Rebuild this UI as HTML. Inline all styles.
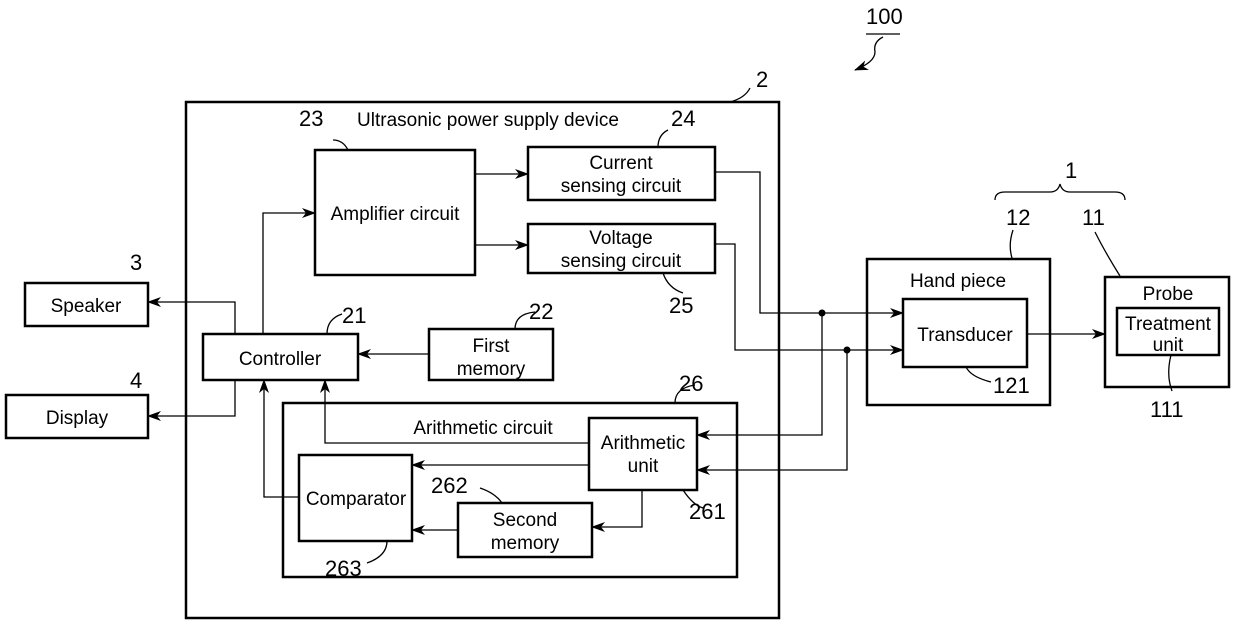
<!DOCTYPE html>
<html><head><meta charset="utf-8"><style>
body{margin:0;background:#fff}
svg{display:block}
text{font-family:"Liberation Sans",sans-serif;font-size:19px;fill:#000}
text.n{font-size:22px}
</style></head><body>
<svg width="1239" height="624" viewBox="0 0 1239 624" xmlns="http://www.w3.org/2000/svg">
<defs><marker id="a" markerWidth="14" markerHeight="10" refX="13" refY="5" orient="auto" markerUnits="userSpaceOnUse"><path d="M0,0 L14,5 L0,10 L4,5 Z" fill="#000"/></marker></defs>
<g fill="none" stroke="#000" stroke-width="2.5">
<rect x="186" y="102" width="593" height="516"/>
<rect x="315" y="150" width="160" height="125"/>
<rect x="528" y="147" width="187" height="53"/>
<rect x="528" y="224" width="187" height="49"/>
<rect x="203" y="334" width="155" height="46"/>
<rect x="429" y="329" width="124" height="51"/>
<rect x="283" y="403" width="454" height="174"/>
<rect x="589" y="418" width="108" height="72"/>
<rect x="299" y="455" width="113" height="86"/>
<rect x="458" y="503" width="134" height="54"/>
<rect x="25" y="283" width="123" height="43"/>
<rect x="6" y="395" width="142" height="43"/>
<rect x="867" y="259" width="183" height="146"/>
<rect x="903" y="299" width="124" height="68"/>
<rect x="1105" y="277" width="124" height="110"/>
<rect x="1117" y="308" width="102" height="47"/>
</g>
<g fill="none" stroke="#000" stroke-width="1.3">
<path d="M235,334 V302 H148" marker-end="url(#a)"/>
<path d="M235,380 V416 H148" marker-end="url(#a)"/>
<path d="M263,334 V213 H315" marker-end="url(#a)"/>
<path d="M475,174 H528" marker-end="url(#a)"/>
<path d="M475,245 H528" marker-end="url(#a)"/>
<path d="M715,172 H760 V313 H903" marker-end="url(#a)"/>
<path d="M715,244 H735 V350 H903" marker-end="url(#a)"/>
<path d="M822,313 V435 H697" marker-end="url(#a)"/>
<path d="M847,350 V470 H697" marker-end="url(#a)"/>
<path d="M589,443 H325 V380" marker-end="url(#a)"/>
<path d="M589,465 H412" marker-end="url(#a)"/>
<path d="M642,490 V527 H592" marker-end="url(#a)"/>
<path d="M458,530 H412" marker-end="url(#a)"/>
<path d="M299,497 H264 V380" marker-end="url(#a)"/>
<path d="M429,354 H358" marker-end="url(#a)"/>
<path d="M1027,334 H1105" marker-end="url(#a)"/>
<path d="M333,140 q10,0 15,10"/><path d="M668,130 q-10,5 -10,17"/><path d="M663,273 q5,15 20,20"/>
<path d="M342,314 q-15,5 -15,20"/><path d="M535,312 q-20,2 -20,17"/><path d="M695,385 q-20,3 -20,18"/>
<path d="M750,88 q-5,10 -20,14"/><path d="M1013,230 q-5,15 -1,28"/><path d="M1095,232 q10,20 25,44"/>
<path d="M966,367 q5,10 25,15"/><path d="M1171,355 q-5,20 1,36"/>
<path d="M683,490 q10,15 20,18"/><path d="M480,488 q15,5 22,15"/><path d="M387,541 q0,15 -20,22"/>
<path d="M995,200 q0,-8 10,-8 H1050 q8,0 10,-8 q2,8 10,8 H1115 q10,0 10,8"/>
<path d="M866,34 H900"/>
<path d="M883,37 q-10,5 -8,15 q0,10 -20,18" marker-end="url(#a)"/>
</g>
<circle cx="822" cy="313" r="3.5"/><circle cx="847" cy="350" r="3.5"/>
<g text-anchor="middle">
<text x="488" y="126">Ultrasonic power supply device</text>
<text x="395" y="220">Amplifier circuit</text>
<text x="621" y="169">Current</text><text x="621" y="192">sensing circuit</text>
<text x="621" y="244">Voltage</text><text x="621" y="267">sensing circuit</text>
<text x="280" y="365">Controller</text>
<text x="491" y="352">First</text><text x="491" y="375">memory</text>
<text x="483" y="434">Arithmetic circuit</text>
<text x="643" y="449">Arithmetic</text><text x="643" y="472">unit</text>
<text x="356" y="505">Comparator</text>
<text x="525" y="526">Second</text><text x="525" y="549">memory</text>
<text x="86" y="312">Speaker</text>
<text x="77" y="424">Display</text>
<text x="958" y="287">Hand piece</text>
<text x="965" y="341">Transducer</text>
<text x="1168" y="300">Probe</text>
<text x="1168" y="330">Treatment</text><text x="1168" y="351">unit</text>
</g>
<text class="n" x="866" y="24">100</text>
<text class="n" x="756" y="87">2</text>
<text class="n" x="1065" y="178">1</text>
<text class="n" x="1006" y="225">12</text>
<text class="n" x="1082" y="225">11</text>
<text class="n" x="130" y="270">3</text>
<text class="n" x="130" y="388">4</text>
<text class="n" x="342" y="323">21</text>
<text class="n" x="529" y="319">22</text>
<text class="n" x="299" y="126">23</text>
<text class="n" x="671" y="126">24</text>
<text class="n" x="669" y="313">25</text>
<text class="n" x="679" y="391">26</text>
<text class="n" x="993" y="393">121</text>
<text class="n" x="1150" y="417">111</text>
<text class="n" x="689" y="519">261</text>
<text class="n" x="431" y="493">262</text>
<text class="n" x="325" y="576">263</text>
</svg>
</body></html>
